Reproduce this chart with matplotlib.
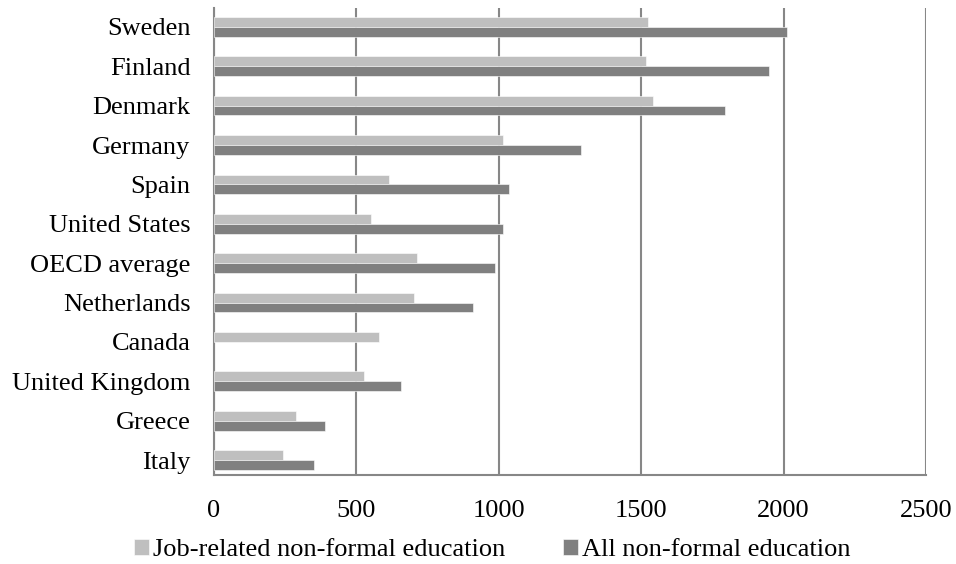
import matplotlib
matplotlib.use("Agg")
import matplotlib.pyplot as plt
import numpy as np

countries = [
    "Sweden", "Finland", "Denmark", "Germany", "Spain", "United States",
    "OECD average", "Netherlands", "Canada", "United Kingdom", "Greece", "Italy",
]
job_related = [1525, 1517, 1542, 1016, 615, 550, 714, 701, 581, 527, 287, 242]
all_nonformal = [2011, 1948, 1794, 1288, 1037, 1014, 987, 910, np.nan, 657, 388, 351]
x_ticks = [0, 500, 1000, 1500, 2000, 2500]

plt.rcParams["font.family"] = ["Liberation Serif", "DejaVu Serif"]
plt.rcParams["font.size"] = 19

LIGHT = "#bfbfbf"
DARK = "#808080"
GRID = "#878787"

fig = plt.figure(figsize=(9.56, 5.64), dpi=100)
ax = fig.add_axes([214 / 956, 1 - 475 / 564, (926 - 214) / 956, (475 - 8) / 564])

n = len(countries)
y = np.arange(n)[::-1]  # Sweden on top
h = 0.25
ax.barh(y + h / 2, job_related, height=h, color=LIGHT, edgecolor="white", linewidth=0.4,
        label="Job-related non-formal education", zorder=3)
# Canada has no value for the second series, so its bar is simply not drawn
all_arr = np.array(all_nonformal, dtype=float)
has_all = ~np.isnan(all_arr)
ax.barh((y - h / 2)[has_all], all_arr[has_all], height=h,
        color=DARK, edgecolor="white", linewidth=0.4, label="All non-formal education",
        zorder=3)

ax.set_xlim(0, 2500)
ax.set_ylim(-0.38, n - 1 + 0.48)
ax.set_xticks(x_ticks)
ax.set_xticklabels([str(t) for t in x_ticks])
ax.set_yticks(y)
ax.set_yticklabels(countries)
ax.tick_params(axis="both", length=0)
ax.tick_params(axis="x", pad=18)
ax.tick_params(axis="y", pad=17)

ax.grid(axis="x", color=GRID, linewidth=1.5, zorder=1)
for side in ("top", "right"):
    ax.spines[side].set_visible(False)
for side in ("left", "bottom"):
    ax.spines[side].set_color(GRID)
    ax.spines[side].set_linewidth(1.5)

fig.legend(loc="center", bbox_to_anchor=(0.515, 1 - 550 / 564), ncol=2, frameon=False,
           handlelength=0.55, handleheight=0.55, handletextpad=0.15, columnspacing=2.2,
           borderaxespad=0, borderpad=0)

fig.savefig("out.png", dpi=100)
